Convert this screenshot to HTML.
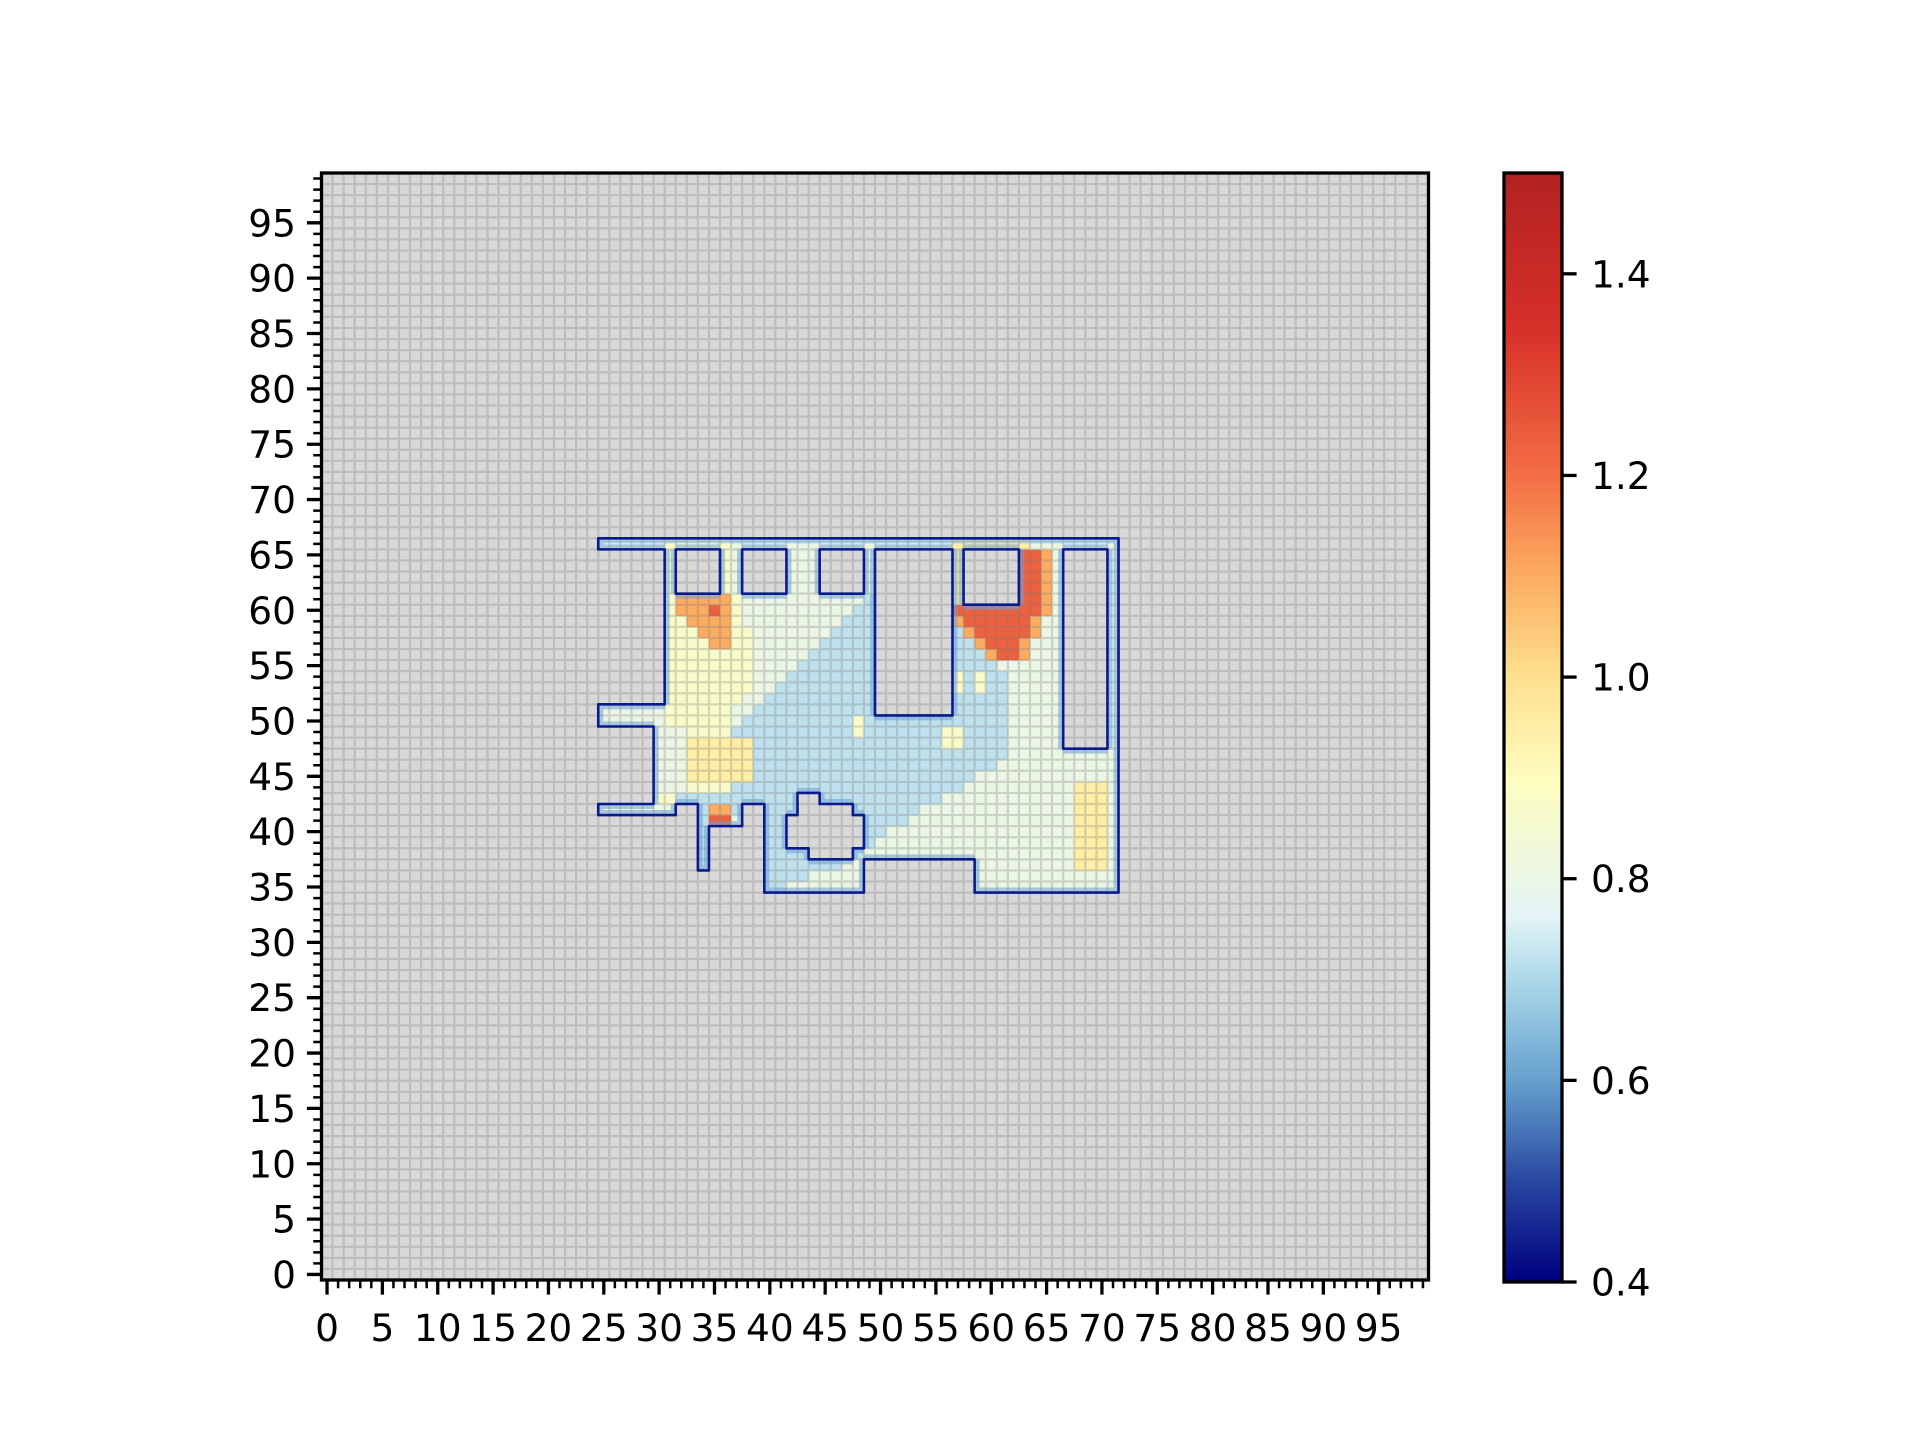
<!DOCTYPE html>
<html><head><meta charset="utf-8"><style>
html,body{margin:0;padding:0;background:#fff;}
svg{display:block;font-family:"DejaVu Sans","Liberation Sans",sans-serif;}
</style></head><body>
<svg id="chart" width="1920" height="1440" viewBox="0 0 1920 1440" xmlns="http://www.w3.org/2000/svg">
<defs>
<linearGradient id="cbgrad" x1="0" y1="1" x2="0" y2="0"></linearGradient>
</defs>
<g id="plot"></g>
<g id="cbar"></g>
</svg>
<script>
// ---- data ----
const gridSize = 100;
const regionX0 = 25;          // first column index of encoded region
const regionYTop = 66;        // row index of first encoded row
const valueLegend = {p:0.80, y:0.87, Y:0.95, o:1.10, r:1.23, b:0.72};
// run-length encoded rows, y = 66 down to 35, columns x = 25..71 ('#' = masked)
const regionRows = [
"p6 y6 p20 Y7 p8",
"#6 y1 #4 y1 p1 #4 p3 #4 p1 #7 Y1 #5 r2 o1 p1 #4 p1",
"#6 y1 #4 y1 p1 #4 p3 #4 p1 #7 Y1 #5 r2 o1 p1 #4 p1",
"#6 y1 #4 y1 p1 #4 p3 #4 p1 #7 Y1 #5 r2 o1 p1 #4 p1",
"#6 y1 #4 y1 p1 #4 p3 #4 p1 #7 Y1 #5 r2 o1 p1 #4 p1",
"#6 y1 o5 y1 p7 p4 b1 #7 Y1 #5 r2 o1 p1 #4 p1",
"#6 y1 o3 r1 o1 y1 p10 b2 #7 r8 o1 p1 #4 p1",
"#6 y2 o4 y1 p9 b3 #7 o1 r6 o1 p2 #4 p1",
"#6 y3 o3 y2 p7 b4 #7 b1 o1 r5 o1 p2 #4 p1",
"#6 y4 o2 y2 p6 b5 #7 b2 o1 r3 o1 p3 #4 p1",
"#6 y8 p5 b6 #7 b3 o1 r2 o1 p3 #4 p1",
"#6 y8 p4 b7 #7 b4 p6 #4 p1",
"#6 y8 p3 b8 #7 y1 b1 y1 b2 p5 #4 p1",
"#6 y8 p2 b9 #7 y1 b1 y1 b2 p5 #4 p1",
"#6 y7 p2 b10 #7 b5 p5 #4 p1",
"p6 y6 p2 b11 #7 b5 p5 #4 p1",
"p6 y6 p1 b10 y1 b13 p5 #4 p1",
"#5 p3 y4 b11 y1 b7 y2 b4 p5 #4 p1",
"#5 p3 Y6 b17 y2 b4 p5 #4 p1",
"#5 p3 Y6 b23 p10",
"#5 p3 Y6 b22 p11",
"#5 p3 Y6 b20 p13",
"#5 p3 y4 b21 p10 Y3 p1",
"#5 y2 b11 #2 b11 p12 Y3 p1",
"p7 #2 b1 o2 b1 #2 b3 #5 b6 p14 Y3 p1",
"#9 b1 r2 p1 #2 b2 #7 b4 p15 Y3 p1",
"#9 b1 #5 b2 #7 b2 p17 Y3 p1",
"#9 b1 #5 b2 #7 b1 p18 Y3 p1",
"#9 b1 #5 b4 #4 b1 p19 Y3 p1",
"#9 b1 #5 b7 p2 #10 p9 Y3 p1",
"#15 b4 p5 #10 p13",
"#15 b2 p7 #10 p13"
];
const xTickLabels = ["0","5","10","15","20","25","30","35","40","45","50","55","60","65","70","75","80","85","90","95"];
const yTickLabels = ["0","5","10","15","20","25","30","35","40","45","50","55","60","65","70","75","80","85","90","95"];
const cbarTicks = [0.4,0.6,0.8,1.0,1.2,1.4];
const cbarTickLabels = ["0.4","0.6","0.8","1.0","1.2","1.4"];
const vmin = 0.4, vmax = 1.5;

// numeric heat values derived from encoded rows (NaN = masked)
const heatValues = [];
for (let j = 0; j < gridSize; j++) { heatValues.push(new Array(gridSize).fill(NaN)); }
regionRows.forEach((row, k) => {
  const yy = regionYTop - k;
  let x = regionX0;
  row.split(" ").forEach(tok => {
    const c = tok[0], n = parseInt(tok.slice(1), 10);
    for (let q = 0; q < n; q++, x++) {
      if (valueLegend[c] !== undefined) heatValues[yy][x] = valueLegend[c];
    }
  });
});

// ---- layout ----
const NS = "http://www.w3.org/2000/svg";
const AX = {left:321.5, top:173, right:1428.5, bottom:1280};
const cw = (AX.right - AX.left) / gridSize;
const xs = v => AX.left + (v + 0.5) * cw;
const ys = v => AX.bottom - (v + 0.5) * cw;
const CB = {left:1504, right:1562, top:173, bottom:1282};
const cbY = v => CB.bottom - (v - vmin) / (vmax - vmin) * (CB.bottom - CB.top);

const cmapStops = [
 [0.0,[0,0,128]],[0.09,[40,70,160]],[0.18,[100,160,205]],[0.27,[170,215,232]],[0.33,[228,244,246]],
 [0.37,[236,246,226]],[0.45,[254,254,192]],[0.55,[253,222,140]],[0.64,[252,170,95]],[0.73,[242,108,68]],
 [0.86,[214,48,40]],[1.0,[178,34,34]]
];
function cmap(v){
  let t = Math.max(0, Math.min(1, (v - vmin) / (vmax - vmin)));
  for (let i = 1; i < cmapStops.length; i++) {
    const a = cmapStops[i-1], b = cmapStops[i];
    if (t <= b[0]) {
      const f = (t - a[0]) / (b[0] - a[0]);
      const c = a[1].map((x, k) => Math.round(x + (b[1][k] - x) * f));
      return `rgb(${c[0]},${c[1]},${c[2]})`;
    }
  }
  return "rgb(178,34,34)";
}
function mk(tag, attrs, parent){
  const e = document.createElementNS(NS, tag);
  for (const k in attrs) e.setAttribute(k, attrs[k]);
  parent.appendChild(e);
  return e;
}
const plot = document.getElementById("plot");

const bg = mk("rect", {x:AX.left, y:AX.top, width:AX.right-AX.left, height:AX.bottom-AX.top, fill:"#d8d8d8"}, plot);



const cellsG = mk("g", {}, plot);


for (let j = 0; j < gridSize; j++) for (let i = 0; i < gridSize; i++) {
  const v = heatValues[j][i];
  if (isNaN(v)) continue;
  const r = mk("rect", {x:(xs(i)-cw/2).toFixed(2), y:(ys(j)-cw/2).toFixed(2), width:(cw+0.3).toFixed(2), height:(cw+0.3).toFixed(2), fill:cmap(v)}, cellsG);
  
  
}

let gp = "";
for (let k = 1; k < gridSize; k++) {
  const x = (AX.left + k*cw).toFixed(2), y = (AX.top + k*cw).toFixed(2);
  gp += `M${x},${AX.top}V${AX.bottom}M${AX.left},${y}H${AX.right}`;
}
const grid = mk("path", {d:gp, stroke:"rgba(120,120,120,0.28)", "stroke-width":2.2, fill:"none"}, plot);



let bp = "", bp2 = "";
const valid = (i,j) => i>=0 && j>=0 && i<gridSize && j<gridSize && !isNaN(heatValues[j][i]);
for (let j = 0; j < gridSize; j++) for (let i = 0; i < gridSize; i++) {
  if (!valid(i,j)) continue;
  const x0 = xs(i)-cw/2, x1 = xs(i)+cw/2, y0 = ys(j)-cw/2, y1 = ys(j)+cw/2;
  if (!valid(i-1,j)) { bp += `M${x0.toFixed(2)},${y0.toFixed(2)}V${y1.toFixed(2)}`; bp2 += `M${(x0+3).toFixed(2)},${y0.toFixed(2)}V${y1.toFixed(2)}`; }
  if (!valid(i+1,j)) { bp += `M${x1.toFixed(2)},${y0.toFixed(2)}V${y1.toFixed(2)}`; bp2 += `M${(x1-3).toFixed(2)},${y0.toFixed(2)}V${y1.toFixed(2)}`; }
  if (!valid(i,j+1)) { bp += `M${x0.toFixed(2)},${y0.toFixed(2)}H${x1.toFixed(2)}`; bp2 += `M${x0.toFixed(2)},${(y0+3).toFixed(2)}H${x1.toFixed(2)}`; }
  if (!valid(i,j-1)) { bp += `M${x0.toFixed(2)},${y1.toFixed(2)}H${x1.toFixed(2)}`; bp2 += `M${x0.toFixed(2)},${(y1-3).toFixed(2)}H${x1.toFixed(2)}`; }
}
const glow = mk("path", {d:bp2, stroke:"rgba(110,160,210,0.55)", "stroke-width":4, fill:"none"}, plot);


const walls = mk("path", {d:bp, stroke:"#0a1a8a", "stroke-width":2.6, fill:"none", "stroke-linecap":"round"}, plot);



const frame = mk("rect", {x:AX.left, y:AX.top, width:AX.right-AX.left, height:AX.bottom-AX.top, fill:"none", stroke:"#000", "stroke-width":3.3}, plot);



let tp = "", mp = "";
for (let v = 0; v < gridSize; v++) {
  const x = xs(v).toFixed(2), y = ys(v).toFixed(2);
  if (v % 5 === 0) { tp += `M${x},${AX.bottom}v14.6M${AX.left},${y}h-14.6`; }
  else { mp += `M${x},${AX.bottom}v8.3M${AX.left},${y}h-8.3`; }
}
const majT = mk("path", {d:tp, stroke:"#000", "stroke-width":3.3}, plot);


const minT = mk("path", {d:mp, stroke:"#000", "stroke-width":2.5}, plot);



xTickLabels.forEach((lab) => {
  const t = mk("text", {x:xs(Number(lab)), y:1341, "font-size":37.5, "text-anchor":"middle", fill:"#000"}, plot);
  t.textContent = lab;
  
  
});
yTickLabels.forEach((lab) => {
  const t = mk("text", {x:296, y:ys(Number(lab))+13.5, "font-size":37.5, "text-anchor":"end", fill:"#000"}, plot);
  t.textContent = lab;
  
  
});

const grad = document.getElementById("cbgrad");
cmapStops.forEach(s => {
  mk("stop", {offset:s[0], "stop-color":`rgb(${s[1].join(",")})`}, grad);
});
const cb = document.getElementById("cbar");
const cbr = mk("rect", {x:CB.left, y:CB.top, width:CB.right-CB.left, height:CB.bottom-CB.top, fill:"url(#cbgrad)", stroke:"#000", "stroke-width":3.3}, cb);


cbarTicks.forEach((v, k) => {
  const y = cbY(v);
  const l = mk("line", {x1:CB.right, x2:CB.right+14.6, y1:y, y2:y, stroke:"#000", "stroke-width":3.3}, cb);
  
  
  const t = mk("text", {x:1591, y:y+13.5, "font-size":37.5, fill:"#000"}, cb);
  t.textContent = cbarTickLabels[k];
  
  
});
</script>
</body></html>
